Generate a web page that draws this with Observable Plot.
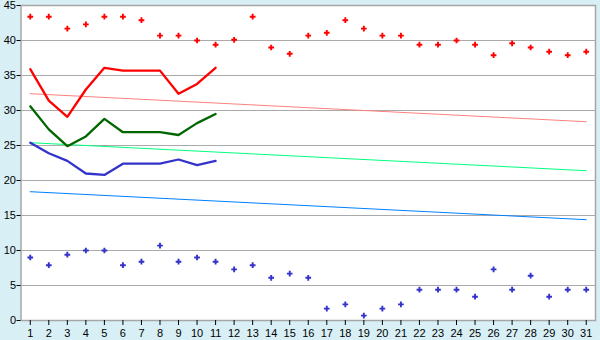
<!DOCTYPE html>
<html><head><meta charset="utf-8">
<script src="https://cdn.jsdelivr.net/npm/d3@7"></script>
<script src="https://cdn.jsdelivr.net/npm/@observablehq/plot@0.6"></script>
<style>html,body{margin:0;padding:0;background:#d9eff6;}</style>
</head><body><div id="chart"></div>
<script>
const days = [1,2,3,4,5,6,7,8,9,10,11,12,13,14,15,16,17,18,19,20,21,22,23,24,25,26,27,28,29,30,31];
const recordHigh = [43.4,43.4,41.7,42.3,43.4,43.4,42.9,40.7,40.7,40.0,39.4,40.1,43.4,39.0,38.1,40.7,41.1,42.9,41.7,40.7,40.7,39.4,39.4,40.0,39.4,37.9,39.6,39.0,38.4,37.9,38.4];
const recordLow = [9.0,7.9,9.4,10.0,10.0,7.9,8.4,10.7,8.4,9.0,8.4,7.3,7.9,6.1,6.7,6.1,1.7,2.3,0.7,1.7,2.3,4.4,4.4,4.4,3.4,7.3,4.4,6.4,3.4,4.4,4.4];
const obsDays = [1,2,3,4,5,6,7,8,9,10,11];
const maxTemp = [35.9,31.4,29.1,33.0,36.1,35.7,35.7,35.7,32.4,33.8,36.1];
const meanTemp = [30.6,27.3,24.9,26.3,28.8,26.9,26.9,26.9,26.5,28.2,29.5];
const minTemp = [25.4,23.9,22.8,21.0,20.8,22.4,22.4,22.4,23.0,22.2,22.8];
const normalDays = [1,31];
const normalMax = [32.4,28.4];
const normalMean = [25.4,21.4];
const normalMin = [18.4,14.4];
const yTicks = [0,5,10,15,20,25,30,35,40,45];

const pts = (xs, ys) => xs.map((x,i)=>({x, y: ys[i]}));

const chart = Plot.plot({
  width: 600, height: 340,
  marginLeft: 20.5, marginRight: 5, marginTop: 5, marginBottom: 20,
  style: {background: "#d9eff6", fontFamily: "Liberation Sans, Arial, sans-serif", fontSize: "11px", color: "#000"},
  x: {domain: [0.5, 31.5], label: null},
  y: {domain: [0, 45], label: null},
  marks: [
    Plot.frame({fill: "white", stroke: "none"}),
    Plot.gridY(yTicks, {stroke: "#aaaaaa", strokeOpacity: 1}),
    Plot.frame({stroke: "#a6a6a6", strokeWidth: 1.5}),
    Plot.line(pts(normalDays, normalMax), {x: "x", y: "y", stroke: "#ff8080", strokeWidth: 1}),
    Plot.line(pts(normalDays, normalMean), {x: "x", y: "y", stroke: "#00ff80", strokeWidth: 1}),
    Plot.line(pts(normalDays, normalMin), {x: "x", y: "y", stroke: "#0080ff", strokeWidth: 1}),
    Plot.line(pts(obsDays, maxTemp), {x: "x", y: "y", stroke: "#ff0000", strokeWidth: 2.3}),
    Plot.line(pts(obsDays, meanTemp), {x: "x", y: "y", stroke: "#006600", strokeWidth: 2.3}),
    Plot.line(pts(obsDays, minTemp), {x: "x", y: "y", stroke: "#3333cc", strokeWidth: 2.3}),
    Plot.dot(pts(days, recordHigh), {x: "x", y: "y", symbol: "cross", r: 2.4, fill: "#ff0000", stroke: "none"}),
    Plot.dot(pts(days, recordLow), {x: "x", y: "y", symbol: "cross", r: 2.4, fill: "#3333cc", stroke: "none"}),
    Plot.axisX(days, {tickSize: 5, tickPadding: 4, tickFormat: d => String(d), label: null}),
    Plot.axisY(yTicks, {tickSize: 4, tickPadding: 1, label: null})
  ]
});
document.getElementById("chart").appendChild(chart);
</script>
</body></html>
